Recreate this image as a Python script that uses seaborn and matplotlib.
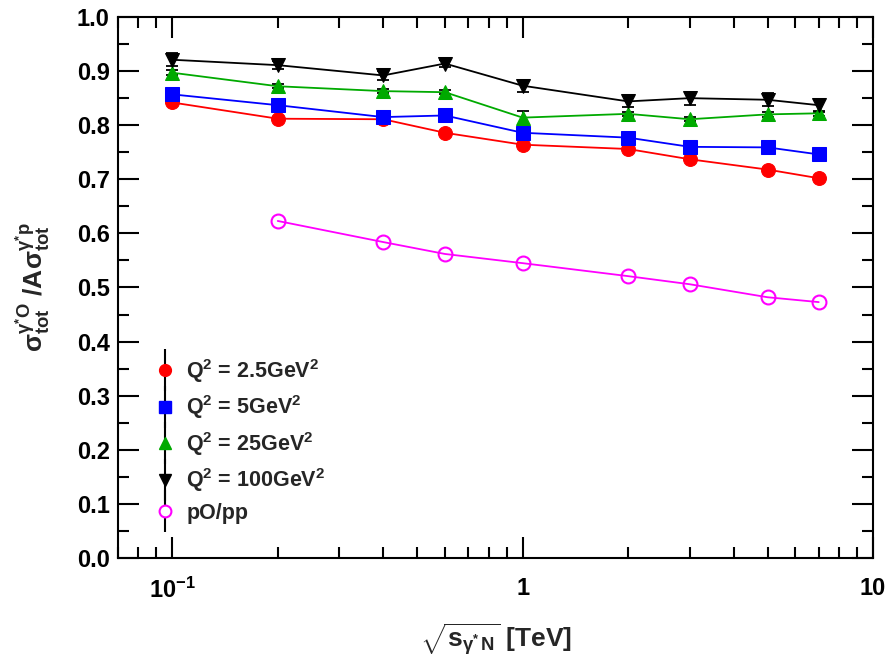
import numpy as np
import pandas as pd
import matplotlib
matplotlib.use("Agg")
import matplotlib.pyplot as plt
import seaborn as sns
from matplotlib.lines import Line2D
from matplotlib.legend_handler import HandlerTuple
from matplotlib.ticker import LogLocator, MultipleLocator, FixedLocator, FixedFormatter, NullFormatter

# ---------------- data ----------------
sqrt_s = [0.1, 0.2, 0.4, 0.6, 1.0, 2.0, 3.0, 5.0, 7.0]
q2_2p5 = [0.842, 0.812, 0.811, 0.786, 0.764, 0.756, 0.737, 0.718, 0.702]
q2_5 = [0.857, 0.837, 0.815, 0.818, 0.786, 0.777, 0.760, 0.759, 0.746]
q2_25 = [0.897, 0.872, 0.863, 0.861, 0.814, 0.821, 0.811, 0.820, 0.822]
q2_100 = [0.921, 0.911, 0.892, 0.914, 0.873, 0.844, 0.850, 0.847, 0.837]
err_2p5 = [0.003, 0.003, 0.003, 0.003, 0.003, 0.003, 0.003, 0.003, 0.003]
err_5 = [0.004, 0.003, 0.003, 0.003, 0.004, 0.003, 0.003, 0.003, 0.003]
err_25 = [0.005, 0.004, 0.004, 0.004, 0.013, 0.004, 0.004, 0.005, 0.005]
err_100 = [0.012, 0.008, 0.008, 0.006, 0.011, 0.010, 0.012, 0.012, 0.012]
sqrt_s_pp = [0.2, 0.4, 0.6, 1.0, 2.0, 3.0, 5.0, 7.0]
pO_pp = [0.623, 0.584, 0.562, 0.545, 0.521, 0.506, 0.482, 0.473]

labels = [r"Q$^{2}$ = 2.5GeV$^{2}$", r"Q$^{2}$ = 5GeV$^{2}$",
          r"Q$^{2}$ = 25GeV$^{2}$", r"Q$^{2}$ = 100GeV$^{2}$", "pO/pp"]
x_ticks = [0.1, 1, 10]
x_ticklabels = [r"10$^{\mathbf{-1}}$", "1", "10"]

# ---------------- style ----------------
sns.set_theme(style="ticks")
plt.rcParams["font.family"] = ["Liberation Sans", "DejaVu Sans"]
plt.rcParams["mathtext.fontset"] = "custom"
plt.rcParams["mathtext.rm"] = "Liberation Sans:bold"
plt.rcParams["mathtext.it"] = "Liberation Sans:bold"
plt.rcParams["mathtext.bf"] = "Liberation Sans:bold"
plt.rcParams["mathtext.default"] = "regular"

fig = plt.figure(figsize=(8.91, 6.62), dpi=100)
ax = fig.add_axes([118 / 891, 1 - 558 / 662, (873 - 118) / 891, (558 - 17) / 662])

series = [
    (sqrt_s, q2_2p5, err_2p5, "#ff0000", "o"),
    (sqrt_s, q2_5, err_5, "#0000ff", "s"),
    (sqrt_s, q2_25, err_25, "#00aa00", "^"),
    (sqrt_s, q2_100, err_100, "#000000", "v"),
]

handles = []
for (xs, ys, es, col, mk), lab in zip(series, labels[:4]):
    df = pd.DataFrame({"x": xs, "y": ys})
    sns.lineplot(data=df, x="x", y="y", ax=ax, color=col, marker=mk,
                 markersize=10, markeredgecolor=col, linewidth=1.3,
                 legend=False, zorder=3)
    ax.errorbar(xs, ys, yerr=es, fmt="none", ecolor="black", elinewidth=1.3,
                capsize=4, capthick=1.3, zorder=2)
    vline = Line2D([], [], marker="|", markersize=30, mew=1.5, color="black",
                   linestyle="none")
    mark = Line2D([], [], marker=mk, markersize=8.5, color=col, linestyle="none")
    handles.append((vline, mark))

dfp = pd.DataFrame({"x": sqrt_s_pp, "y": pO_pp})
sns.lineplot(data=dfp, x="x", y="y", ax=ax, color="#ff00ff", marker="o",
             markersize=10, markerfacecolor="none", markeredgecolor="#ff00ff",
             markeredgewidth=1.5, linewidth=1.3, legend=False, zorder=3)
vline = Line2D([], [], marker="|", markersize=30, mew=1.5, color="black",
               linestyle="none")
mark = Line2D([], [], marker="o", markersize=8.5, markerfacecolor="white",
              markeredgecolor="#ff00ff", markeredgewidth=1.5, linestyle="none")
handles.append((vline, mark))

# ---------------- axes ----------------
ax.set_xscale("log")
ax.set_xlim(0.07, 10.0)
ax.set_ylim(0.0, 1.0)
ax.xaxis.set_major_locator(FixedLocator(x_ticks))
ax.xaxis.set_major_formatter(FixedFormatter(x_ticklabels))
ax.xaxis.set_minor_locator(LogLocator(base=10, subs=np.arange(2, 10)))
ax.xaxis.set_minor_formatter(NullFormatter())
ax.yaxis.set_major_locator(MultipleLocator(0.1))
ax.yaxis.set_minor_locator(MultipleLocator(0.05))
ax.yaxis.set_major_formatter(matplotlib.ticker.FormatStrFormatter("%.1f"))

for s in ax.spines.values():
    s.set_linewidth(1.5)
    s.set_color("black")
    s.set_visible(True)

ax.tick_params(which="both", direction="in", top=True, right=True,
               colors="black", width=1.5)
ax.tick_params(which="major", length=15)
ax.tick_params(which="minor", length=8)
ax.tick_params(axis="y", which="major", labelsize=17, pad=6)
ax.tick_params(axis="x", which="major", labelsize=17, pad=14)
for lbl in ax.get_xticklabels() + ax.get_yticklabels():
    lbl.set_fontweight("bold")

ax.set_xlabel(r"$\sqrt{s_{\gamma^{*}\,N}}$ [TeV]", fontsize=19,
              fontweight="bold", labelpad=14)
ax.set_ylabel(r"$\sigma^{\gamma^{*}O}_{tot}$ /A$\sigma^{\gamma^{*}p}_{tot}$",
              fontsize=19, fontweight="bold", labelpad=18)

leg = ax.legend(handles, labels, handler_map={tuple: HandlerTuple(ndivide=1)},
                loc="upper left", bbox_to_anchor=(0.035, 0.388), frameon=False,
                fontsize=15.5, handlelength=1.1, handletextpad=0.45,
                labelspacing=0.4, borderaxespad=0)
for t in leg.get_texts():
    t.set_fontweight("bold")

fig.savefig("out.png", dpi=100)
